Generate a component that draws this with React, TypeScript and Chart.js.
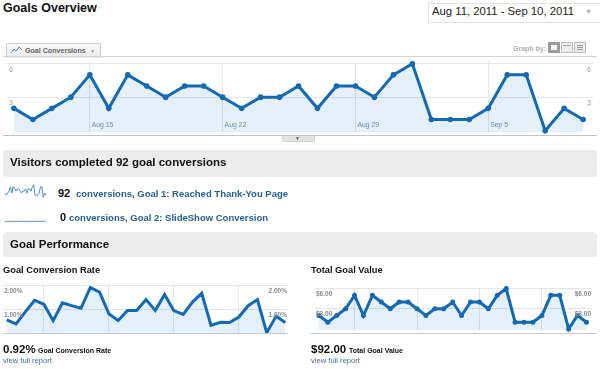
import React, { useEffect, useRef } from "react";
import { Chart, registerables } from "chart.js";

Chart.register(...registerables);

// ---------- data ----------
const days = [
  "Aug 11", "Aug 12", "Aug 13", "Aug 14", "Aug 15", "Aug 16", "Aug 17", "Aug 18",
  "Aug 19", "Aug 20", "Aug 21", "Aug 22", "Aug 23", "Aug 24", "Aug 25", "Aug 26",
  "Aug 27", "Aug 28", "Aug 29", "Aug 30", "Aug 31", "Sep 1", "Sep 2", "Sep 3",
  "Sep 4", "Sep 5", "Sep 6", "Sep 7", "Sep 8", "Sep 9", "Sep 10",
];
const goalConversions = [2, 1, 2, 3, 5, 2, 5, 4, 3, 4, 4, 3, 2, 3, 3, 4, 2, 4, 4, 3, 5, 6, 1, 1, 1, 2, 5, 5, 0, 2, 1];
const goal2Conversions = [0, 0, 0, 0, 0, 0, 0, 0, 0, 0, 0, 0, 0, 0, 0, 0, 0, 0, 0, 0, 0, 0, 0, 0, 0, 0, 0, 0, 0, 0, 0];
const conversionRate = [0.54, 0.37, 0.88, 1.37, 1.2, 0.51, 1.26, 1.14, 1.03, 1.91, 1.71, 0.8, 0.51, 0.94, 0.94, 1.4, 0.94, 1.61, 0.93, 0.77, 1.29, 1.66, 0.31, 0.44, 0.43, 0.66, 1.14, 1.4, 0, 0.69, 0.43];
const goalValue = [2, 1, 2, 3, 5, 2, 5, 4, 3, 4, 4, 3, 2, 3, 3, 4, 2, 4, 4, 3, 5, 6, 1, 1, 1, 2, 5, 5, 0, 2, 1];
const weekLabels = ["Aug 15", "Aug 22", "Aug 29", "Sep 5"];
const mainTicks = [3, 6];
const rateTicks = [1, 2];
const valueTicks = [3, 6];

const BLUE = "#1469b4";
const FILL = "rgba(40,130,205,0.13)";
const FONT = '"Liberation Sans", Arial, Helvetica, sans-serif';

type LineProps = {
  left: number; top: number; width: number; height: number;
  values: number[];
  xMin: number; xMax: number; yMin: number; yMax: number;
  yTicks?: number[];
  yLabel?: (v: number) => string;
  yFont?: string; yColor?: string; yInset?: number; yDy?: number;
  xTickLabels?: string[];
  xLabelFont?: string; xLabelColor?: string;
  grid?: boolean;
  pointRadius: number; lineWidth: number;
  color?: string; fill?: string | false;
};

function LineCanvas(p: LineProps) {
  const ref = useRef<HTMLCanvasElement>(null);
  useEffect(() => {
    const canvas = ref.current;
    if (!canvas) return;
    const xIdx = (p.xTickLabels || []).map((l) => days.indexOf(l));
    const labelPlugin = {
      id: "insideLabels",
      afterDatasetsDraw(chart: any) {
        const ctx = chart.ctx;
        const area = chart.chartArea;
        const ys = chart.scales.y;
        const xs = chart.scales.x;
        ctx.save();
        if (p.yTicks && p.yLabel) {
          ctx.font = p.yFont || "7px " + FONT;
          ctx.fillStyle = p.yColor || "#888";
          ctx.textBaseline = "top";
          for (const t of p.yTicks) {
            const py = ys.getPixelForValue(t) + (p.yDy || 2);
            ctx.textAlign = "left";
            ctx.fillText(p.yLabel(t), area.left + (p.yInset || 1), py);
            ctx.textAlign = "right";
            ctx.fillText(p.yLabel(t), area.right - (p.yInset || 1), py);
          }
        }
        if (p.xTickLabels && p.xLabelFont) {
          ctx.font = p.xLabelFont;
          ctx.fillStyle = p.xLabelColor || "#6a8db0";
          ctx.textBaseline = "bottom";
          ctx.textAlign = "left";
          p.xTickLabels.forEach((l, i) => {
            const px = xs.getPixelForValue(xIdx[i]);
            ctx.fillText(l, px + 2, area.bottom - 3);
          });
        }
        ctx.restore();
      },
    };
    const chart = new Chart(canvas, {
      type: "line",
      data: {
        datasets: [
          {
            data: p.values.map((v, i) => ({ x: i, y: v })),
            borderColor: p.color || BLUE,
            backgroundColor: p.fill === false ? "transparent" : p.fill || FILL,
            fill: p.fill === false ? false : "start",
            borderWidth: p.lineWidth,
            pointRadius: p.pointRadius,
            pointBackgroundColor: p.color || BLUE,
            pointBorderWidth: 0,
            tension: 0,
            clip: false as any,
          },
        ],
      },
      options: {
        responsive: false,
        animation: false,
        devicePixelRatio: 1,
        layout: { padding: 0 },
        plugins: { legend: { display: false }, tooltip: { enabled: false } },
        events: [],
        scales: {
          x: {
            type: "linear",
            min: p.xMin,
            max: p.xMax,
            display: !!p.grid,
            border: { display: false },
            ticks: { display: false },
            grid: { color: "#e6e6e6", drawTicks: false, lineWidth: 1 },
            afterBuildTicks: (s: any) => {
              s.ticks = xIdx.map((v) => ({ value: v }));
            },
          },
          y: {
            type: "linear",
            min: p.yMin,
            max: p.yMax,
            display: !!p.grid,
            border: { display: false },
            ticks: { display: false },
            grid: { color: "#e6e6e6", drawTicks: false, lineWidth: 1 },
            afterBuildTicks: (s: any) => {
              s.ticks = (p.yTicks || []).map((v) => ({ value: v }));
            },
          },
        },
      },
      plugins: [labelPlugin],
    });
    return () => chart.destroy();
  }, []);
  return (
    <canvas
      ref={ref}
      width={p.width}
      height={p.height}
      style={{ position: "absolute", left: p.left, top: p.top, width: p.width, height: p.height }}
    />
  );
}

function T(props: { x: number; y: number; size: number; bold?: boolean; color?: string; children: any; style?: React.CSSProperties }) {
  return (
    <div
      style={{
        position: "absolute",
        left: props.x,
        top: props.y,
        fontSize: props.size,
        lineHeight: props.size + "px",
        fontWeight: props.bold ? "bold" : "normal",
        color: props.color || "#111",
        whiteSpace: "nowrap",
        ...props.style,
      }}
    >
      {props.children}
    </div>
  );
}

function Box(props: { x: number; y: number; w: number; h: number; style?: React.CSSProperties; children?: any }) {
  return (
    <div style={{ position: "absolute", left: props.x, top: props.y, width: props.w, height: props.h, boxSizing: "border-box", ...props.style }}>
      {props.children}
    </div>
  );
}

export default function App() {
  const total = goalConversions.reduce((a, b) => a + b, 0);
  const total2 = goal2Conversions.reduce((a, b) => a + b, 0);
  const totalValue = goalValue.reduce((a, b) => a + b, 0);
  const link = "#255d95";
  return (
    <div style={{ position: "fixed", left: 0, top: 0, width: 600, height: 369, background: "#fff", overflow: "hidden", fontFamily: FONT }}>
      <T x={3} y={1.7} size={12.5} bold>Goals Overview</T>

      {/* date range */}
      <Box x={428} y={3} w={175} h={20} style={{ border: "1px solid #e2e2e2", background: "#fff" }} />
      <T x={432} y={5.8} size={11.3} color="#222">Aug 11, 2011 - Sep 10, 2011</T>
      <T x={585} y={8} size={7} color="#aaa">▼</T>

      {/* metric tab */}
      <Box x={6} y={43} w={95} h={15} style={{ border: "1px solid #cfcfcf", borderBottom: "none", background: "linear-gradient(#fafafa,#e9e9e9)", borderRadius: "2px 2px 0 0" }} />
      <svg style={{ position: "absolute", left: 11, top: 46 }} width={12} height={8}>
        <polyline points="0,7 3,3 5,5 8,1 11,4" fill="none" stroke="#5b8fc7" strokeWidth={1} />
      </svg>
      <T x={25} y={47.5} size={7.1} bold color="#666">Goal Conversions</T>
      <T x={90} y={48.5} size={5} color="#999">▼</T>

      {/* graph by */}
      <T x={513} y={45} size={7} bold color="#b0b0b0">Graph by:</T>
      <Box x={548} y={42} w={12} h={11} style={{ border: "1px solid #999", background: "#9d9d9d" }}>
        <div style={{ position: "absolute", left: 2, top: 2, width: 6, height: 5, background: "#f4f4f4" }} />
      </Box>
      <Box x={561} y={42} w={12} h={11} style={{ border: "1px solid #bbb", background: "#ececec" }}>
        <div style={{ position: "absolute", left: 1, top: 2, width: 8, height: 1, background: "#aaa" }} />
      </Box>
      <Box x={574} y={42} w={12} h={11} style={{ border: "1px solid #bbb", background: "#ececec" }}>
        <div style={{ position: "absolute", left: 2, top: 2, width: 6, height: 1, background: "#999" }} />
        <div style={{ position: "absolute", left: 2, top: 4, width: 6, height: 1, background: "#999" }} />
        <div style={{ position: "absolute", left: 2, top: 6, width: 6, height: 1, background: "#999" }} />
      </Box>

      {/* main chart */}
      <Box x={3} y={56} w={594} h={1} style={{ background: "#d6d6d6" }} />
      <LineCanvas
        left={3} top={57} width={594} height={79}
        values={goalConversions}
        xMin={-0.364} xMax={30.52} yMin={-0.12} yMax={6.24}
        yTicks={mainTicks} yLabel={(v) => String(v)}
        yFont={"7px " + FONT} yColor="#999" yInset={2} yDy={2.5}
        xTickLabels={weekLabels} xLabelFont={"6.8px " + FONT} xLabelColor="#6d8fb2"
        grid pointRadius={2.8} lineWidth={3}
      />
      <Box x={3} y={135} w={594} h={1} style={{ background: "#c4c4c4" }} />
      <Box x={282} y={136} w={33} h={6} style={{ background: "#e4e4e4", border: "1px solid #d0d0d0", borderTop: "none", borderRadius: "0 0 2px 2px" }} />
      <T x={295} y={136} size={5} color="#555">▼</T>

      {/* goal conversions section */}
      <Box x={3} y={150} w={594} h={27} style={{ background: "#ececec", borderRadius: 4 }} />
      <T x={10} y={156.5} size={11.5} bold>Visitors completed {total} goal conversions</T>
      <LineCanvas
        left={5} top={184} width={41} height={14}
        values={goalConversions}
        xMin={0} xMax={30} yMin={-0.3} yMax={6.3}
        pointRadius={0} lineWidth={1} color="#4d8dcb" fill={false}
      />
      <T x={58} y={187.7} size={11} bold>{total}</T>
      <T x={76} y={189} size={9.5} bold color={link}>conversions, Goal 1: Reached Thank-You Page</T>
      <LineCanvas
        left={5} top={208} width={41} height={14}
        values={goal2Conversions}
        xMin={0} xMax={30} yMin={-0.3} yMax={6.3}
        pointRadius={0} lineWidth={1} color="#4d8dcb" fill={false}
      />
      <T x={60} y={211.7} size={11} bold>{total2}</T>
      <T x={69} y={213} size={9.5} bold color={link}>conversions, Goal 2: SlideShow Conversion</T>

      {/* goal performance */}
      <Box x={3} y={232} w={594} h={25} style={{ background: "#ececec", borderRadius: 4 }} />
      <T x={10} y={238.8} size={11.5} bold>Goal Performance</T>

      <T x={3} y={265.6} size={9.3} bold>Goal Conversion Rate</T>
      <LineCanvas
        left={3} top={284} width={285} height={50}
        values={conversionRate}
        xMin={-0.4} xMax={30.29} yMin={-0.055} yMax={2.055}
        yTicks={rateTicks} yLabel={(v) => v.toFixed(2) + "%"}
        yFont={"bold 6.5px " + FONT} yColor="#8a8a8a" yInset={0} yDy={2.5}
        xTickLabels={weekLabels}
        grid pointRadius={0} lineWidth={3}
      />
      <Box x={3} y={333} w={285} h={1} style={{ background: "#c8c8c8" }} />
      <T x={3} y={343.6} size={11.5} bold>{(0.92).toFixed(2)}%</T>
      <T x={38} y={347} size={7} bold>Goal Conversion Rate</T>
      <T x={3} y={356.8} size={7.6} color="#3a6ea5">view full report</T>

      <T x={311} y={265.6} size={9.3} bold>Total Goal Value</T>
      <LineCanvas
        left={311} top={284} width={285} height={50}
        values={goalValue}
        xMin={-0.436} xMax={30.62} yMin={-0.16} yMax={6.09}
        yTicks={valueTicks} yLabel={(v) => "$" + v.toFixed(2)}
        yFont={"bold 6.5px " + FONT} yColor="#8a8a8a" yInset={0} yDy={2.5}
        xTickLabels={weekLabels}
        grid pointRadius={2.5} lineWidth={3}
      />
      <Box x={311} y={333} w={285} h={1} style={{ background: "#c8c8c8" }} />
      <T x={311} y={343.6} size={11.5} bold>${totalValue.toFixed(2)}</T>
      <T x={349} y={347} size={7} bold>Total Goal Value</T>
      <T x={311} y={356.8} size={7.6} color="#3a6ea5">view full report</T>
    </div>
  );
}
